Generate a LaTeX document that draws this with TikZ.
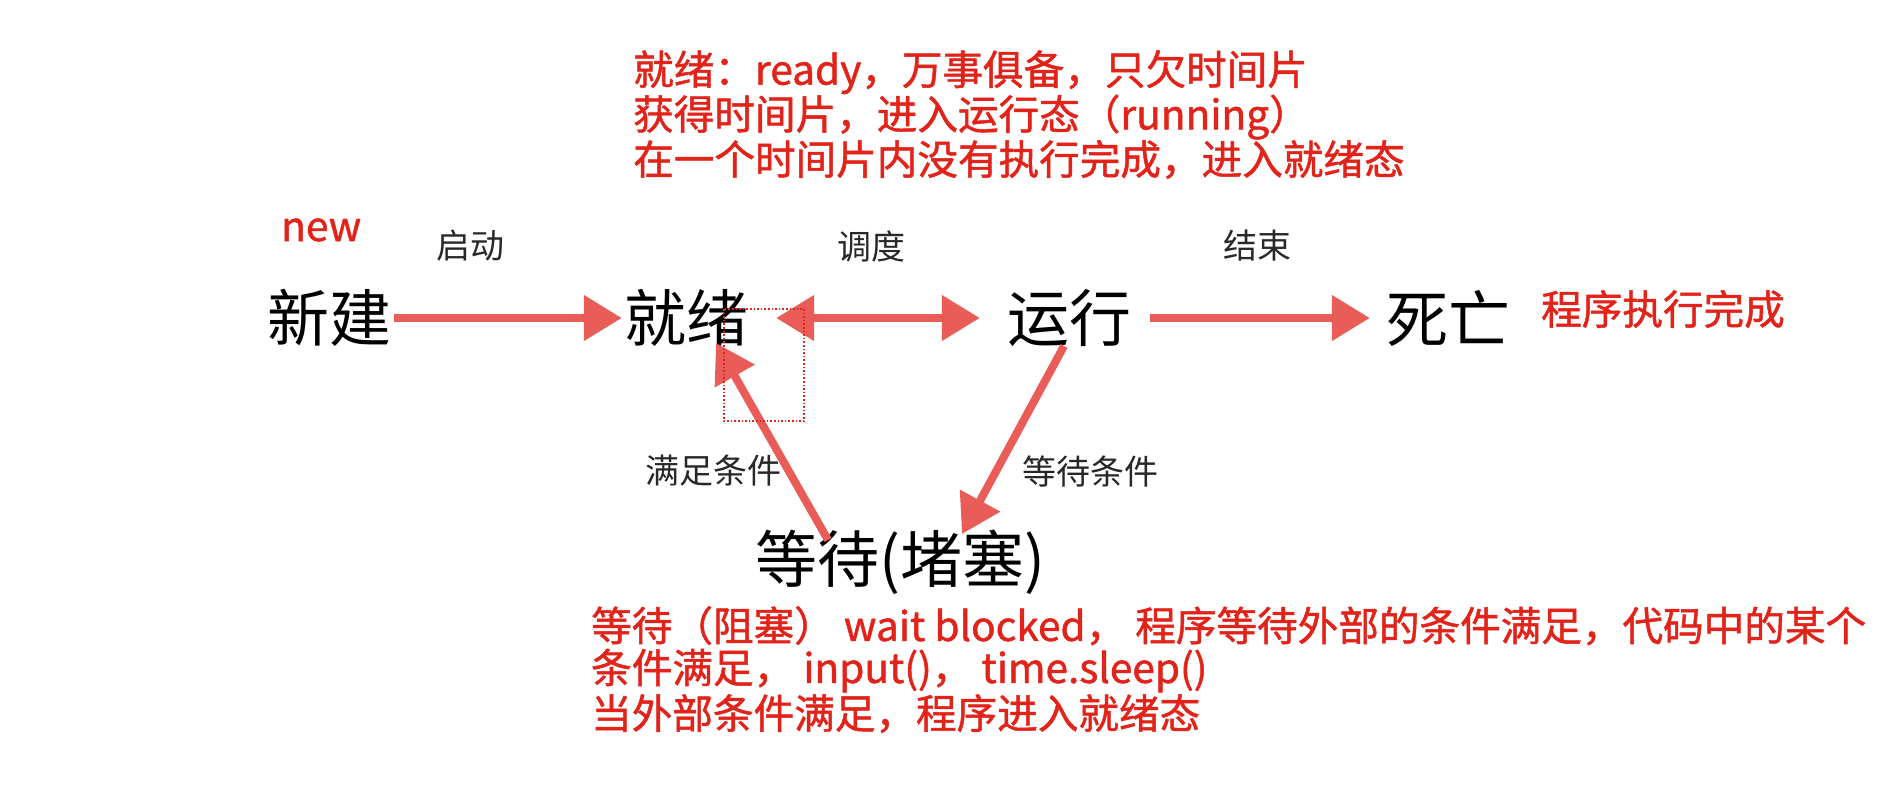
\documentclass[tikz,border=0pt]{standalone}
\usepackage{fontspec}
\setmainfont{Noto Sans CJK SC}
\newfontfamily\cjk{Noto Sans CJK SC}
\newfontfamily\cjkred{Noto Sans CJK SC}[FakeBold=1.2]
\usetikzlibrary{arrows.meta,calc}
\definecolor{redtxt}{RGB}{226,35,26}
\definecolor{arrred}{RGB}{234,92,88}
\definecolor{lbl}{RGB}{40,40,40}
\tikzset{
  bignode/.style={inner sep=2pt, font=\cjk\fontsize{62}{62}\selectfont, text=black},
  lblnode/.style={inner sep=0pt, font=\cjk\fontsize{34}{36}\selectfont, text=lbl},
  rednote/.style={inner sep=0pt, font=\cjkred\fontsize{40.6}{40}\selectfont, text=redtxt, align=left},
  arr/.style={draw=arrred, line width=8pt, -{Triangle[length=38pt,width=44pt]}},
  darr/.style={draw=arrred, line width=8pt, {Triangle[length=38pt,width=44pt]}-{Triangle[length=38pt,width=44pt]}},
}
\begin{document}
\begin{tikzpicture}[x=1pt,y=-1pt]
\useasboundingbox (0,0) rectangle (1902,800);
% states
\node[bignode] (xj) at (329,318) {新建};
\node[bignode] (jx) at (686,318) {就绪};
\node[bignode] (yx) at (1069,318) {运行};
\node[bignode] (sw) at (1448,318) {死亡};
\node[bignode] (dd) at (900,562) {等待(堵塞)};
% transition labels
\node[lblnode] (l1) at (470,246) {启动};
\node[lblnode] (l2) at (871,246) {调度};
\node[lblnode] (l3) at (1257,246) {结束};
\node[lblnode] (l4) at (713,471) {满足条件};
\node[lblnode] (l5) at (1090,471) {等待条件};
% red notes
\node[rednote, anchor=west] (nnew) at (281,230) {new};
\node[rednote, anchor=west] (ndone) at (1541,309) {程序执行完成};
\node[rednote, anchor=north west] (ntop) at (633,50) {就绪：ready，万事俱备，只欠时间片\\[-0.5pt]获得时间片，进入运行态（running）\\[-0.5pt]在一个时间片内没有执行完成，进入就绪态};
\node[rednote, anchor=north west] (nbot) at (591,606) {等待（阻塞） wait blocked， 程序等待外部的条件满足，代码中的某个\\[2pt]条件满足， input()， time.sleep()\\[1pt]当外部条件满足，程序进入就绪态};
% connector end points
\coordinate (a4s) at (1064,346);
\coordinate (a4e) at (962,534);
\coordinate (a5s) at (828,540);
\coordinate (a5e) at (716,343);
% connectors
\draw[arr, shorten <=1pt] (xj.east) -- (jx.west);
\draw[darr, shorten <=26pt, shorten >=25pt] (jx.east) -- (yx.west);
\draw[arr, shorten <=17pt, shorten >=14pt] (yx.east) -- (sw.west);
\draw[arr] (a4s) -- (a4e);
\draw[arr] (a5s) -- (a5e);
% dotted box
\draw[draw=redtxt, dotted, line width=1.6pt] (724,309) rectangle (804,421);
\end{tikzpicture}
\end{document}
